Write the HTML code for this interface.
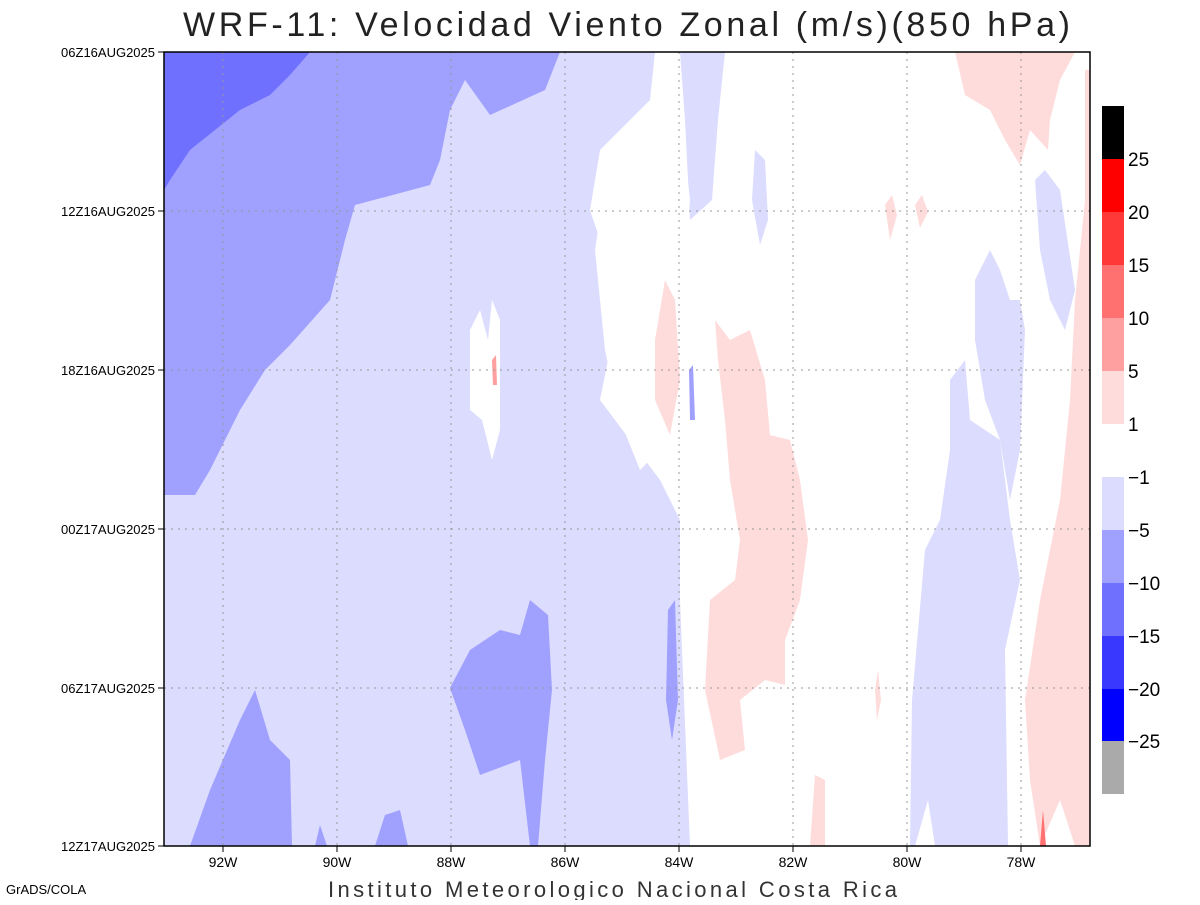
<!DOCTYPE html>
<html><head><meta charset="utf-8"><style>
body{margin:0;background:#fff;width:1200px;height:900px;overflow:hidden}
svg text{font-family:"Liberation Sans",sans-serif}
</style></head><body>
<svg width="1200" height="900" viewBox="0 0 1200 900" xmlns="http://www.w3.org/2000/svg">
<rect width="1200" height="900" fill="#fff"/>
<defs><clipPath id="c"><rect x="164" y="52" width="926" height="794"/></clipPath></defs>
<g clip-path="url(#c)">
<path fill="#dcdcfe" d="M164,52 L655,52 L650,100 L600,150 L590,210 L620,300 L600,400 L660,480 L680,520 L680,600 L690,846 L164,846 Z"/>
<path fill="#dcdcfe" d="M680,52 L725,52 L718,120 L712,200 L690,220 L685,120 Z"/>
<path fill="#fff" d="M610,150 L640,120 L660,95 L680,110 L690,200 L680,300 L670,400 L660,450 L640,470 L620,420 L605,350 L595,250 Z"/>
<path fill="#fff" d="M470,330 L480,310 L488,340 L492,300 L500,320 L500,430 L492,460 L482,420 L470,410 Z"/>
<path fill="#a0a0ff" d="M164,52 L560,52 L545,90 L490,115 L465,80 L450,110 L440,160 L430,185 L355,205 L345,240 L330,300 L290,345 L265,370 L240,410 L210,470 L195,495 L164,495 Z"/>
<path fill="#a0a0ff" d="M450,688 L470,650 L500,630 L520,635 L530,600 L548,615 L552,690 L545,760 L538,846 L530,846 L520,760 L480,775 L465,730 Z"/>
<path fill="#a0a0ff" d="M190,846 L210,790 L240,720 L255,690 L270,740 L290,760 L292,846 Z"/>
<path fill="#a0a0ff" d="M375,846 L385,815 L400,810 L408,846 Z"/>
<path fill="#a0a0ff" d="M315,846 L320,825 L327,846 Z"/>
<path fill="#a0a0ff" d="M668,610 L675,600 L678,700 L672,740 L666,700 Z"/>
<path fill="#a0a0ff" d="M689,370 L693,365 L695,420 L690,420 Z"/>
<path fill="#7070ff" d="M164,52 L310,52 L290,75 L270,95 L240,110 L215,130 L190,150 L170,180 L164,190 Z"/>
<path fill="#dcdcfe" d="M950,380 L965,360 L970,420 L1000,440 L1010,520 L1020,580 L1005,650 L1008,846 L935,846 L928,800 L915,846 L910,846 L912,700 L925,550 L940,520 L950,450 Z"/>
<path fill="#dcdcfe" d="M975,280 L990,250 L1000,270 L1010,300 L1020,300 L1025,330 L1020,450 L1010,500 L1000,440 L985,400 L975,340 Z"/>
<path fill="#dcdcfe" d="M1035,180 L1045,170 L1060,190 L1075,290 L1065,330 L1050,300 L1040,250 Z"/>
<path fill="#dcdcfe" d="M755,150 L765,160 L768,220 L760,245 L752,200 Z"/>
<path fill="#ffdcdc" d="M955,52 L1075,52 L1060,80 L1050,120 L1048,150 L1030,130 L1020,165 L1005,140 L990,110 L965,95 Z"/>
<path fill="#ffdcdc" d="M1085,70 L1090,70 L1090,846 L1075,846 L1060,800 L1040,846 L1030,780 L1025,700 L1040,600 L1060,500 L1070,400 L1075,300 L1085,200 Z"/>
<path fill="#ffdcdc" d="M715,320 L730,340 L750,330 L765,380 L770,435 L790,440 L800,480 L808,540 L800,600 L785,640 L785,685 L765,680 L740,700 L745,750 L720,760 L705,690 L710,600 L735,580 L740,540 L730,480 L725,420 L718,360 Z"/>
<path fill="#ffdcdc" d="M655,340 L665,280 L675,300 L680,380 L670,435 L655,400 Z"/>
<path fill="#ffdcdc" d="M810,846 L815,775 L825,780 L825,846 Z"/>
<path fill="#ffdcdc" d="M885,205 L892,195 L897,215 L890,240 Z"/>
<path fill="#ffdcdc" d="M915,205 L922,195 L928,212 L920,228 Z"/>
<path fill="#ffdcdc" d="M875,690 L878,670 L881,700 L877,720 Z"/>
<path fill="#ffa0a0" d="M492,360 L496,355 L497,385 L493,385 Z"/>
<path fill="#ff7070" d="M1040,846 L1043,810 L1046,846 Z"/>
<g stroke="#999" stroke-width="1" stroke-dasharray="2,5">
<line x1="223" y1="52" x2="223" y2="846"/><line x1="337" y1="52" x2="337" y2="846"/>
<line x1="451" y1="52" x2="451" y2="846"/><line x1="565" y1="52" x2="565" y2="846"/>
<line x1="679" y1="52" x2="679" y2="846"/><line x1="793" y1="52" x2="793" y2="846"/>
<line x1="907" y1="52" x2="907" y2="846"/><line x1="1021" y1="52" x2="1021" y2="846"/>
<line x1="164" y1="211" x2="1090" y2="211"/><line x1="164" y1="370" x2="1090" y2="370"/>
<line x1="164" y1="529" x2="1090" y2="529"/><line x1="164" y1="688" x2="1090" y2="688"/>
</g>
</g>
<rect x="164" y="52" width="926" height="794" fill="none" stroke="#000" stroke-width="1.5"/>
<g stroke="#000"><line x1="223" y1="846" x2="223" y2="852"/><line x1="337" y1="846" x2="337" y2="852"/><line x1="451" y1="846" x2="451" y2="852"/><line x1="565" y1="846" x2="565" y2="852"/><line x1="679" y1="846" x2="679" y2="852"/><line x1="793" y1="846" x2="793" y2="852"/><line x1="907" y1="846" x2="907" y2="852"/><line x1="1021" y1="846" x2="1021" y2="852"/>
<line x1="158" y1="52" x2="164" y2="52"/><line x1="158" y1="211" x2="164" y2="211"/><line x1="158" y1="370" x2="164" y2="370"/><line x1="158" y1="529" x2="164" y2="529"/><line x1="158" y1="688" x2="164" y2="688"/><line x1="158" y1="846" x2="164" y2="846"/></g>
<g font-size="14" text-anchor="middle">
<text x="223" y="867">92W</text><text x="337" y="867">90W</text><text x="451" y="867">88W</text><text x="565" y="867">86W</text><text x="679" y="867">84W</text><text x="793" y="867">82W</text><text x="907" y="867">80W</text><text x="1021" y="867">78W</text>
</g>
<g font-size="13" text-anchor="end">
<text x="155" y="57">06Z16AUG2025</text><text x="155" y="216">12Z16AUG2025</text><text x="155" y="375">18Z16AUG2025</text><text x="155" y="534">00Z17AUG2025</text><text x="155" y="693">06Z17AUG2025</text><text x="155" y="851">12Z17AUG2025</text>
</g>
<text x="183" y="36" font-size="34" textLength="887" lengthAdjust="spacing" fill="#222">WRF-11: Velocidad  Viento Zonal (m/s)(850 hPa)</text>
<text x="328" y="897" font-size="22" textLength="569" lengthAdjust="spacing" fill="#333">Instituto Meteorologico Nacional Costa Rica</text>
<text x="6" y="894" font-size="13">GrADS/COLA</text>
<rect x="1102" y="106" width="22" height="53" fill="#000"/>
<rect x="1102" y="159" width="22" height="53" fill="#ff0000"/>
<rect x="1102" y="212" width="22" height="53" fill="#ff3838"/>
<rect x="1102" y="265" width="22" height="53" fill="#ff7070"/>
<rect x="1102" y="318" width="22" height="53" fill="#ffa0a0"/>
<rect x="1102" y="371" width="22" height="53" fill="#ffdcdc"/>
<rect x="1102" y="477" width="22" height="53" fill="#dcdcfe"/>
<rect x="1102" y="530" width="22" height="53" fill="#a0a0ff"/>
<rect x="1102" y="583" width="22" height="53" fill="#7070ff"/>
<rect x="1102" y="636" width="22" height="53" fill="#3838ff"/>
<rect x="1102" y="689" width="22" height="52" fill="#0000ff"/>
<rect x="1102" y="741" width="22" height="53" fill="#aaaaaa"/>
<g font-size="19">
<text x="1128" y="166">25</text><text x="1128" y="219">20</text><text x="1128" y="272">15</text><text x="1128" y="325">10</text><text x="1128" y="378">5</text><text x="1128" y="431">1</text>
<text x="1128" y="484">−1</text><text x="1128" y="537">−5</text><text x="1128" y="590">−10</text><text x="1128" y="643">−15</text><text x="1128" y="696">−20</text><text x="1128" y="748">−25</text>
</g>
</svg>
</body></html>
